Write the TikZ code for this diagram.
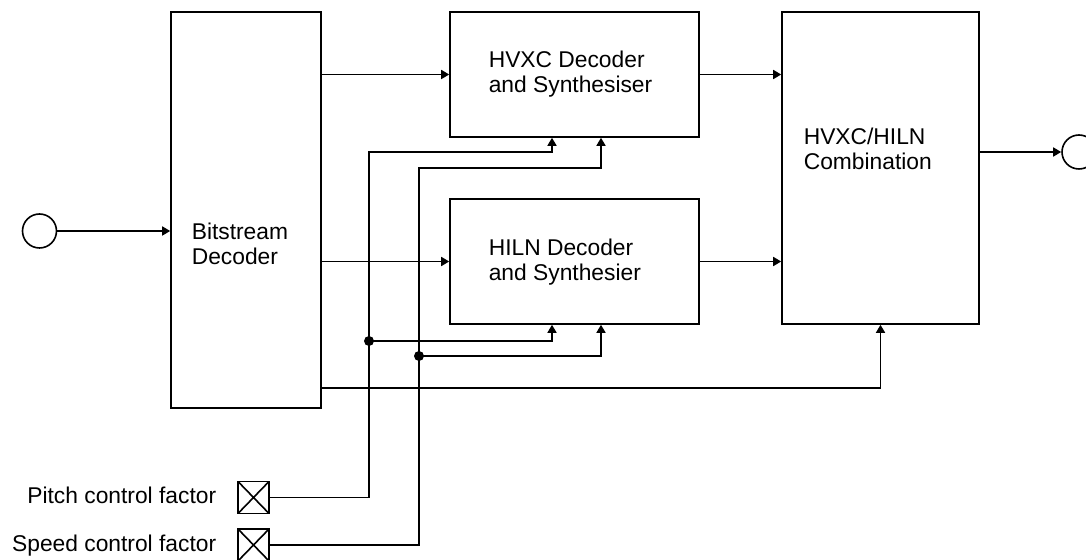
\documentclass[tikz,border=0pt]{standalone}
\usepackage{fontspec}
\setmainfont{Liberation Sans}
\usetikzlibrary{arrows.meta, calc}

\begin{document}
\begin{tikzpicture}[x=0.5pt, y=-0.5pt, line width=0.8pt,
  >={Triangle[length=4pt, width=4.5pt]},
  block/.style={draw, inner sep=0pt},
  txt/.style={font=\fontsize{11.4}{12.5}\selectfont, align=left, inner sep=0pt, anchor=north west},
  port/.style={draw, circle, minimum size=17pt, inner sep=0pt},
  xbox/.style={draw, minimum width=15.5pt, minimum height=16pt, inner sep=0pt,
    path picture={\draw (path picture bounding box.north west) -- (path picture bounding box.south east)
                        (path picture bounding box.south west) -- (path picture bounding box.north east);}}]
  \useasboundingbox (0,0) rectangle (1086,560);

  % Blocks
  \node[block, minimum width=75pt, minimum height=198pt] (bsd) at (246,210) {};
  \node[block, minimum width=124.5pt, minimum height=62.5pt] (hvxc) at (574.5,74.5) {};
  \node[block, minimum width=124.5pt, minimum height=62.5pt] (hiln) at (574.5,261.5) {};
  \node[block, minimum width=98.5pt, minimum height=156pt] (comb) at (880.5,168) {};

  \node[txt] (bsdtxt) at (191,222) {Bitstream\\Decoder};
  \node[txt] (hvxctxt) at (488,50) {HVXC Decoder\\and Synthesiser};
  \node[txt] (hilntxt) at (488,238) {HILN Decoder\\and Synthesier};
  \node[txt] (combtxt) at (803,127) {HVXC/HILN\\Combination};

  % In and out
  \node[port] (in) at (39.5,231) {};
  \node[port] (out) at (1079,152) {};

  % Control inputs
  \node[xbox] (pbox) at (253.5,497.5) {};
  \node[xbox] (sbox) at (253.5,545) {};
  \node[txt, anchor=base east] (plab) at (217,503) {Pitch control factor};
  \node[txt, anchor=base east] (slab) at (217,552) {Speed control factor};

  % Signal flow
  \draw[->] (in.east) -- (in.east -| bsd.west);
  \draw[->] (bsd.east |- hvxc.west) -- (hvxc.west);
  \draw[->] (bsd.east |- hiln.west) -- (hiln.west);
  \draw[->] (hvxc.east) -- (hvxc.east -| comb.west);
  \draw[->] (hiln.east) -- (hiln.east -| comb.west);
  \draw[->] (comb.east |- out.west) -- (out.west);
  \coordinate (tap) at (321,388);
  \draw[->] (tap) -| (comb.south);

  % Pitch and speed control
  \coordinate (pj) at (369,341);
  \coordinate (sj) at (419,356);
  \coordinate (pt) at (552,152);
  \coordinate (st) at (601,168);
  \draw[->] (pbox.east) -| (pj) |- (pt) -- (pt |- hvxc.south);
  \draw[->] (pj) -| (pt |- hiln.south);
  \draw[->] (sbox.east) -| (sj) |- (st) -- (st |- hvxc.south);
  \draw[->] (sj) -| (st |- hiln.south);
  \fill (pj) circle (2.5pt);
  \fill (sj) circle (2.5pt);
\end{tikzpicture}
\end{document}
